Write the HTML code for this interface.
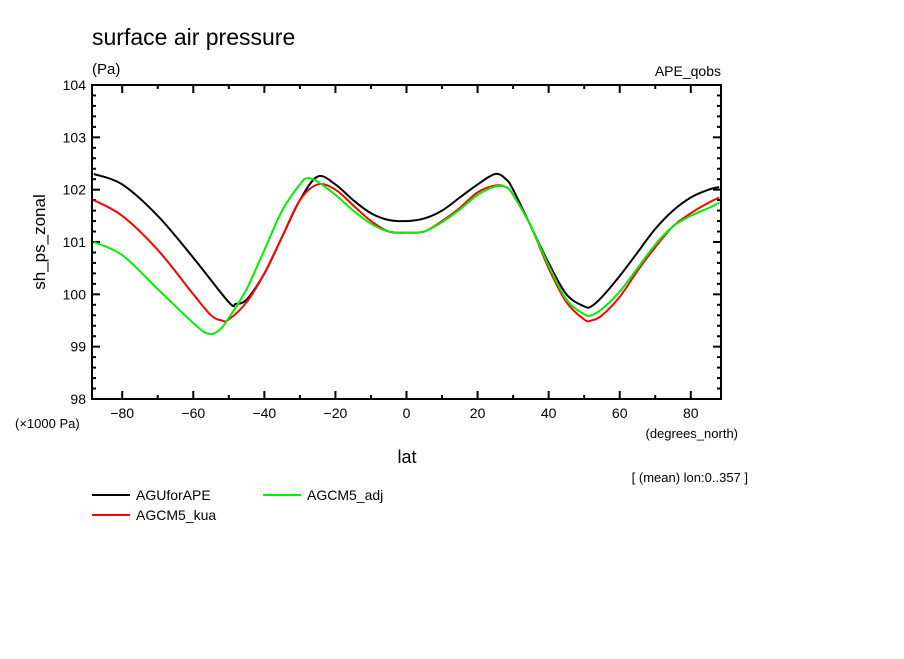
<!DOCTYPE html>
<html><head><meta charset="utf-8"><style>
body{margin:0;background:#fff;}
svg text{font-family:"Liberation Sans",sans-serif;fill:#000;}
</style></head><body>
<svg id="chart" width="904" height="654" viewBox="0 0 904 654">
<text x="92" y="45" font-size="23">surface air pressure</text>
<text x="92" y="74" font-size="15">(Pa)</text>
<text x="721" y="76" font-size="14" text-anchor="end">APE_qobs</text>
<text transform="translate(45,242) rotate(-90)" font-size="17" text-anchor="middle">sh_ps_zonal</text>
<text x="407" y="463" font-size="18" text-anchor="middle">lat</text>
<text x="15" y="428" font-size="13">(×1000 Pa)</text>
<text x="738" y="438" font-size="13" text-anchor="end">(degrees_north)</text>
<text x="748" y="482" font-size="13" text-anchor="end">[ (mean) lon:0..357 ]</text>
<g id="axes"></g>
<g id="series"></g>
<g>
<line x1="92" y1="495" x2="130" y2="495" stroke="#000" stroke-width="2"/>
<text x="136" y="500" font-size="14">AGUforAPE</text>
<line x1="92" y1="515" x2="130" y2="515" stroke="#f00" stroke-width="2"/>
<text x="136" y="520" font-size="14">AGCM5_kua</text>
<line x1="263" y1="495" x2="301" y2="495" stroke="#0e0" stroke-width="2"/>
<text x="307" y="500" font-size="14">AGCM5_adj</text>
</g>
</svg>
<script>
const latBlack=[-88,-80,-70,-60,-50,-48,-45,-40,-35,-30,-25,-20,-15,-10,-5,0,5,10,15,20,25,28,30,35,40,45,50,52,55,60,65,70,75,80,85,88];
const valBlack=[102.3,102.1,101.5,100.7,99.85,99.82,99.9,100.4,101.1,101.8,102.25,102.1,101.8,101.55,101.42,101.4,101.45,101.6,101.85,102.1,102.3,102.2,102.0,101.3,100.6,100.0,99.77,99.77,99.95,100.35,100.8,101.25,101.6,101.85,102.0,102.05];
const latRed=[-88,-80,-70,-60,-55,-52,-50,-45,-40,-35,-30,-25,-20,-15,-10,-5,0,5,10,15,20,25,28,30,35,40,45,50,52,55,60,65,70,75,80,85,88];
const valRed=[101.8,101.5,100.85,100.0,99.6,99.5,99.52,99.85,100.4,101.1,101.8,102.1,102.0,101.7,101.4,101.2,101.18,101.2,101.4,101.65,101.95,102.08,102.05,101.9,101.3,100.5,99.85,99.52,99.5,99.6,99.95,100.45,100.9,101.3,101.55,101.75,101.85];
const latGreen=[-88,-80,-70,-60,-56,-53,-50,-45,-40,-35,-30,-28,-25,-20,-15,-10,-5,0,5,10,15,20,25,28,30,35,40,45,50,52,55,60,65,70,75,80,85,88];
const valGreen=[101.0,100.75,100.1,99.45,99.25,99.3,99.55,100.1,100.85,101.6,102.1,102.22,102.15,101.9,101.6,101.35,101.2,101.18,101.2,101.38,101.62,101.9,102.06,102.05,101.9,101.3,100.55,99.9,99.62,99.6,99.72,100.05,100.5,100.95,101.3,101.5,101.65,101.75];
const xTicks=[-80,-60,-40,-20,0,20,40,60,80];
const yTicks=[98,99,100,101,102,103,104];
const L=92,R=721,T=85,B=399,XMIN=-88.5,XMAX=88.5,YMIN=98,YMAX=104;
const sx=v=>L+(v-XMIN)/(XMAX-XMIN)*(R-L);
const sy=v=>B-(v-YMIN)/(YMAX-YMIN)*(B-T);
const NS='http://www.w3.org/2000/svg';
const ax=document.getElementById('axes');
function mk(t,a,p){const e=document.createElementNS(NS,t);for(const k in a)e.setAttribute(k,a[k]);p.appendChild(e);return e;}
const fr=mk('rect',{x:L,y:T,width:R-L,height:B-T,fill:'none',stroke:'#000','stroke-width':2},ax);


for(let v=-80;v<=80;v+=10){const maj=v%20===0;const x=sx(v);
 const t1=mk('line',{x1:x,x2:x,y1:B,y2:B-(maj?8:4),stroke:'#000','stroke-width':2},ax);
 
 
 const t2=mk('line',{x1:x,x2:x,y1:T,y2:T+(maj?8:4),stroke:'#000','stroke-width':2},ax);
 
 }
xTicks.forEach(v=>{const t=mk('text',{x:sx(v),y:B+19,'font-size':14,'text-anchor':'middle'},ax);t.textContent=String(v).replace('-','−');
 
 });
for(let i=0;i<=30;i++){const v=98+i*0.2;const maj=i%5===0;const y=sy(v);
 const t1=mk('line',{x1:L,x2:L+(maj?8:4),y1:y,y2:y,stroke:'#000','stroke-width':2},ax);
 
 
 const t2=mk('line',{x1:R,x2:R-(maj?8:4),y1:y,y2:y,stroke:'#000','stroke-width':2},ax);
 
 }
yTicks.forEach(v=>{const t=mk('text',{x:L-6,y:sy(v)+5,'font-size':14,'text-anchor':'end'},ax);t.textContent=v;
 
 });
const sg=document.getElementById('series');
function line(lats,vals,col,name){
 const P=lats.map((la,i)=>[sx(la),sy(vals[i])]);
 let d='M'+P[0][0].toFixed(1)+','+P[0][1].toFixed(1);
 for(let i=0;i<P.length-1;i++){
  const p0=P[Math.max(0,i-1)],p1=P[i],p2=P[i+1],p3=P[Math.min(P.length-1,i+2)];
  const c1=[p1[0]+(p2[0]-p0[0])/6,p1[1]+(p2[1]-p0[1])/6];
  const c2=[p2[0]-(p3[0]-p1[0])/6,p2[1]-(p3[1]-p1[1])/6];
  d+='C'+c1[0].toFixed(1)+','+c1[1].toFixed(1)+' '+c2[0].toFixed(1)+','+c2[1].toFixed(1)+' '+p2[0].toFixed(1)+','+p2[1].toFixed(1);
 }
 const p=mk('path',{d:d,fill:'none',stroke:col,'stroke-width':2,'stroke-linejoin':'round'},sg);
 
 }
line(latBlack,valBlack,'#000','series-aguforape');
line(latRed,valRed,'#f00','series-agcm5-kua');
line(latGreen,valGreen,'#0e0','series-agcm5-adj');
</script>
</body></html>
